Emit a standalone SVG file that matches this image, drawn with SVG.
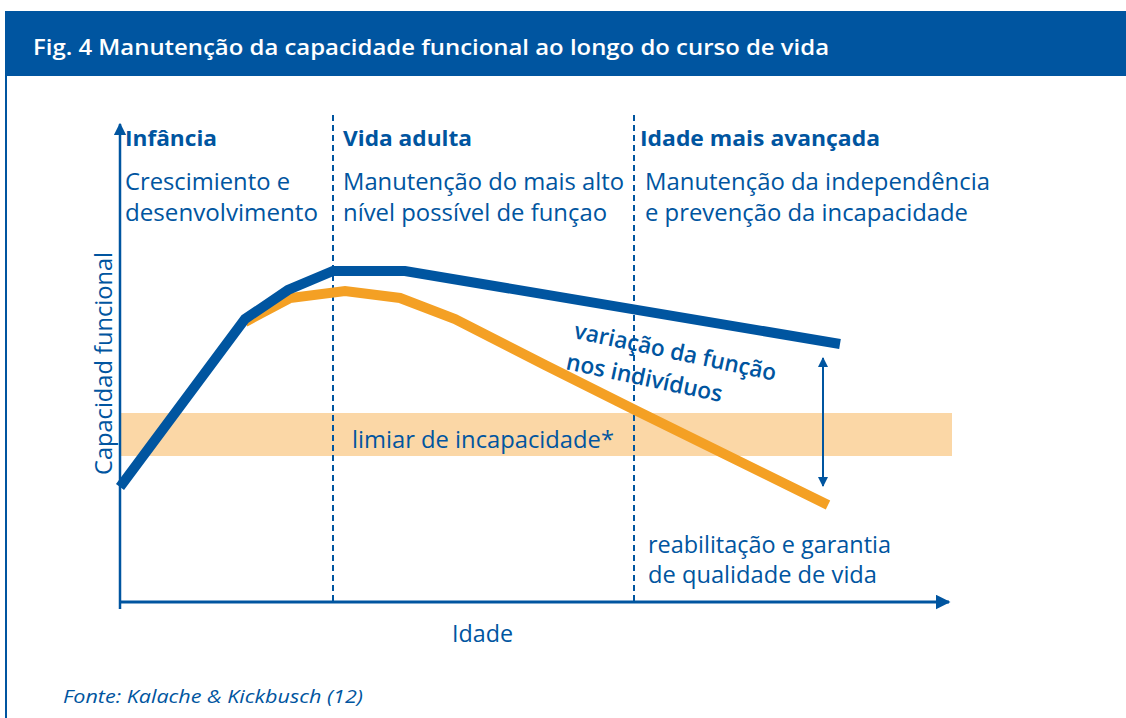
<svg xmlns="http://www.w3.org/2000/svg" width="1126" height="718" viewBox="0 0 1126 718">
<defs>
<style>
.t{font-family:"Open Sans","Noto Sans","Liberation Sans",sans-serif;fill:#0055a0;font-size:23px;font-weight:500}
.b{font-weight:bold;font-size:22px}
.s{font-weight:600}
.c{font-family:"Open Sans","Noto Sans","Liberation Sans",sans-serif;fill:#0055a0;font-weight:500}
.axis{stroke:#0055a0;fill:none}
.dash{stroke:#0055a0;stroke-width:2;stroke-dasharray:6 4;fill:none}
</style>
<marker id="ah" viewBox="0 0 10 10" refX="9" refY="5" markerWidth="5" markerHeight="5" orient="auto-start-reverse" markerUnits="strokeWidth">
<path d="M0,0 L10,5 L0,10 z" fill="#0055a0"/>
</marker>
<marker id="ah2" viewBox="0 0 10 10" refX="9" refY="5" markerWidth="5" markerHeight="5" orient="auto-start-reverse" markerUnits="strokeWidth">
<path d="M0,0 L10,5 L0,10 z" fill="#0055a0"/>
</marker>
</defs>
<rect width="1126" height="718" fill="#ffffff"/>
<g id="frame">
<rect x="5" y="11" width="1121" height="65" fill="#0055a0"/>
<line x1="6" y1="76" x2="6" y2="718" stroke="#0055a0" stroke-width="2"/>
<text x="33" y="55" font-family="'Open Sans','Noto Sans','Liberation Sans',sans-serif" font-weight="600" font-size="21" fill="#ffffff" textLength="796" lengthAdjust="spacingAndGlyphs">Fig. 4 Manutenção da capacidade funcional ao longo do curso de vida</text>
</g>
<g id="band">
<rect x="120" y="413" width="832" height="43" fill="#fbd7a6"/>
<text class="t" x="352" y="448" textLength="262" lengthAdjust="spacingAndGlyphs">limiar de incapacidade*</text>
</g>
<g id="connectors">
<line class="dash" x1="333" y1="115" x2="333" y2="602"/>
<line class="dash" x1="634" y1="115" x2="634" y2="602"/>
<line class="axis" x1="120" y1="609" x2="120" y2="124" stroke-width="2.5" marker-end="url(#ah)"/>
<line class="axis" x1="119" y1="602" x2="949" y2="602" stroke-width="3" marker-end="url(#ah)"/>
<polyline points="245,322 290,298 345,291 400,298 455,319 545,365 635,410 828,505" fill="none" stroke="#f4a024" stroke-width="10"/>
<polyline points="120,487 245,319 288,290 333,271 405,271 840,344" fill="none" stroke="#0055a0" stroke-width="10"/>
<line class="axis" x1="823" y1="358" x2="823" y2="486" stroke-width="2" marker-start="url(#ah2)" marker-end="url(#ah2)"/>
</g>
<g id="infancia">
<text class="t b" x="125" y="146" textLength="92" lengthAdjust="spacingAndGlyphs">Infância</text>
<text class="t" x="125" y="190" textLength="165" lengthAdjust="spacingAndGlyphs">Crescimiento e</text>
<text class="t" x="125" y="221" textLength="193" lengthAdjust="spacingAndGlyphs">desenvolvimento</text>
</g>
<g id="vida-adulta">
<text class="t b" x="343" y="146" textLength="129" lengthAdjust="spacingAndGlyphs">Vida adulta</text>
<text class="t" x="343" y="190" textLength="281" lengthAdjust="spacingAndGlyphs">Manutenção do mais alto</text>
<text class="t" x="343" y="221" textLength="264" lengthAdjust="spacingAndGlyphs">nível possível de funçao</text>
</g>
<g id="idade-avancada">
<text class="t b" x="640" y="146" textLength="240" lengthAdjust="spacingAndGlyphs">Idade mais avançada</text>
<text class="t" x="645" y="190" textLength="345" lengthAdjust="spacingAndGlyphs">Manutenção da independência</text>
<text class="t" x="645" y="221" textLength="323" lengthAdjust="spacingAndGlyphs">e prevenção da incapacidade</text>
</g>
<g id="y-label">
<text class="t" transform="translate(112,475) rotate(-90)" x="0" y="0" textLength="223" lengthAdjust="spacingAndGlyphs">Capacidad funcional</text>
</g>
<g id="variacao">
<text class="t s" transform="translate(573,338) rotate(12)" x="0" y="0" textLength="206" lengthAdjust="spacingAndGlyphs">variação da função</text>
<text class="t s" transform="translate(565,369) rotate(12)" x="0" y="0" textLength="159" lengthAdjust="spacingAndGlyphs">nos indivíduos</text>
</g>
<g id="reabilitacao">
<text class="c" x="648" y="553" font-size="23" textLength="243" lengthAdjust="spacingAndGlyphs">reabilitação e garantia</text>
<text class="c" x="648" y="583" font-size="23" textLength="229" lengthAdjust="spacingAndGlyphs">de qualidade de vida</text>
</g>
<g id="x-label">
<text class="c" x="452" y="642" font-size="23" textLength="61" lengthAdjust="spacingAndGlyphs">Idade</text>
</g>
<g id="fonte">
<text class="c" x="63" y="703" font-size="18" font-style="italic" textLength="300" lengthAdjust="spacingAndGlyphs">Fonte: Kalache &amp; Kickbusch (12)</text>
</g>
</svg>
